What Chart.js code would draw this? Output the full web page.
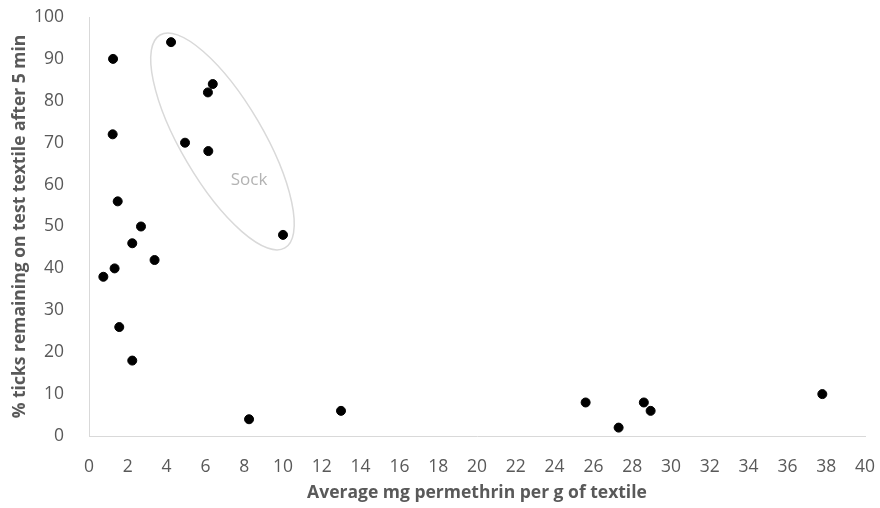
<!DOCTYPE html>
<html>
<head>
<meta charset="utf-8">
<script src="https://cdn.jsdelivr.net/npm/chart.js@4.4.0/dist/chart.umd.min.js"></script>
<style>
  html, body { margin: 0; padding: 0; background: #fff; }
  #wrap { width: 880px; height: 508px; position: relative; }
</style>
</head>
<body>
<div id="wrap"><canvas id="chart"></canvas></div>
<script>
// mg permethrin per g of textile vs % ticks remaining after 5 min
var doseX = [1.24, 1.22, 1.48, 2.68, 2.23, 3.38, 0.74, 1.32, 1.56, 2.23, 8.25,
             4.23, 6.38, 6.13, 4.95, 6.15, 10.0,
             12.99, 25.6, 27.3, 28.6, 28.95, 37.8];
var ticksLeft = [90, 72, 56, 50, 46, 42, 38, 40, 26, 18, 4,
                 94, 84, 82, 70, 68, 48,
                 6, 8, 2, 8, 6, 10];
var xTickValues = [0, 2, 4, 6, 8, 10, 12, 14, 16, 18, 20, 22, 24, 26, 28, 30, 32, 34, 36, 38, 40];
var yTickValues = [0, 10, 20, 30, 40, 50, 60, 70, 80, 90, 100];

// the "Sock" group ring: ends of its long axis, in data units
var sockFrom = [3.66, 95.7];
var sockTo = [10.1, 44.9];
var sockText = 'Sock';
var sockTextAt = [8.25, 61];

var points = doseX.map(function (x, i) {
    return { x: x, y: ticksLeft[i] };
});

var grey = '#595959';
var fontFamily = '"Open Sans", sans-serif';

var sockPlugin = {
    id: 'sock',
    beforeDatasetsDraw: function (chart) {
        var ctx = chart.ctx;
        var xs = chart.scales.x, ys = chart.scales.y;
        var x1 = xs.getPixelForValue(sockFrom[0]), y1 = ys.getPixelForValue(sockFrom[1]);
        var x2 = xs.getPixelForValue(sockTo[0]), y2 = ys.getPixelForValue(sockTo[1]);
        var cx = (x1 + x2) / 2, cy = (y1 + y2) / 2;
        var a = Math.hypot(x2 - x1, y2 - y1) / 2;
        var ang = Math.atan2(y2 - y1, x2 - x1);
        ctx.save();
        ctx.beginPath();
        ctx.ellipse(cx, cy, a, 41, ang, 0, Math.PI * 2);
        ctx.strokeStyle = '#d9d9d9';
        ctx.lineWidth = 1.5;
        ctx.stroke();
        ctx.fillStyle = '#b3b3b3';
        ctx.font = '17px ' + fontFamily;
        ctx.textAlign = 'center';
        ctx.textBaseline = 'middle';
        ctx.fillText(sockText, xs.getPixelForValue(sockTextAt[0]), ys.getPixelForValue(sockTextAt[1]));
        ctx.restore();
    }
};

var ctx = document.getElementById('chart').getContext('2d');
new Chart(ctx, {
    type: 'scatter',
    data: {
        datasets: [{
            data: points,
            backgroundColor: '#000',
            borderColor: '#000',
            pointRadius: 4.5,
            pointHoverRadius: 4.5
        }]
    },
    options: {
        responsive: true,
        maintainAspectRatio: false,
        animation: false,
        layout: { padding: { top: 17, right: 15, left: 0, bottom: 0 } },
        plugins: {
            legend: { display: false },
            tooltip: { enabled: false }
        },
        scales: {
            x: {
                type: 'linear',
                min: 0,
                max: 40,
                afterBuildTicks: function (scale) {
                    scale.ticks = xTickValues.map(function (v) { return { value: v }; });
                },
                afterFit: function (scale) {
                    scale.paddingLeft = 0;
                    scale.paddingRight = 0;
                    scale.height = 72;
                },
                grid: { display: false },
                border: { display: true, color: '#d9d9d9', width: 1 },
                ticks: {
                    color: grey,
                    padding: 13,
                    font: { family: fontFamily, size: 17.5 }
                },
                title: {
                    display: true,
                    text: 'Average mg permethrin per g of textile',
                    color: grey,
                    padding: { top: 4, bottom: 4 },
                    font: { family: fontFamily, size: 17.5, weight: 'bold' }
                }
            },
            y: {
                type: 'linear',
                min: 0,
                max: 100,
                afterBuildTicks: function (scale) {
                    scale.ticks = yTickValues.map(function (v) { return { value: v }; });
                },
                afterFit: function (scale) {
                    scale.paddingTop = 0;
                    scale.paddingBottom = 0;
                    scale.width = 89;
                },
                grid: { display: false },
                border: { display: true, color: '#d9d9d9', width: 1 },
                ticks: {
                    color: grey,
                    padding: 17,
                    font: { family: fontFamily, size: 17.5 }
                },
                title: {
                    display: true,
                    text: '% ticks remaining on test textile after 5 min',
                    color: grey,
                    padding: { top: 10, bottom: 0 },
                    font: { family: fontFamily, size: 17.5, weight: 'bold' }
                }
            }
        }
    },
    plugins: [sockPlugin]
});
</script>
</body>
</html>
